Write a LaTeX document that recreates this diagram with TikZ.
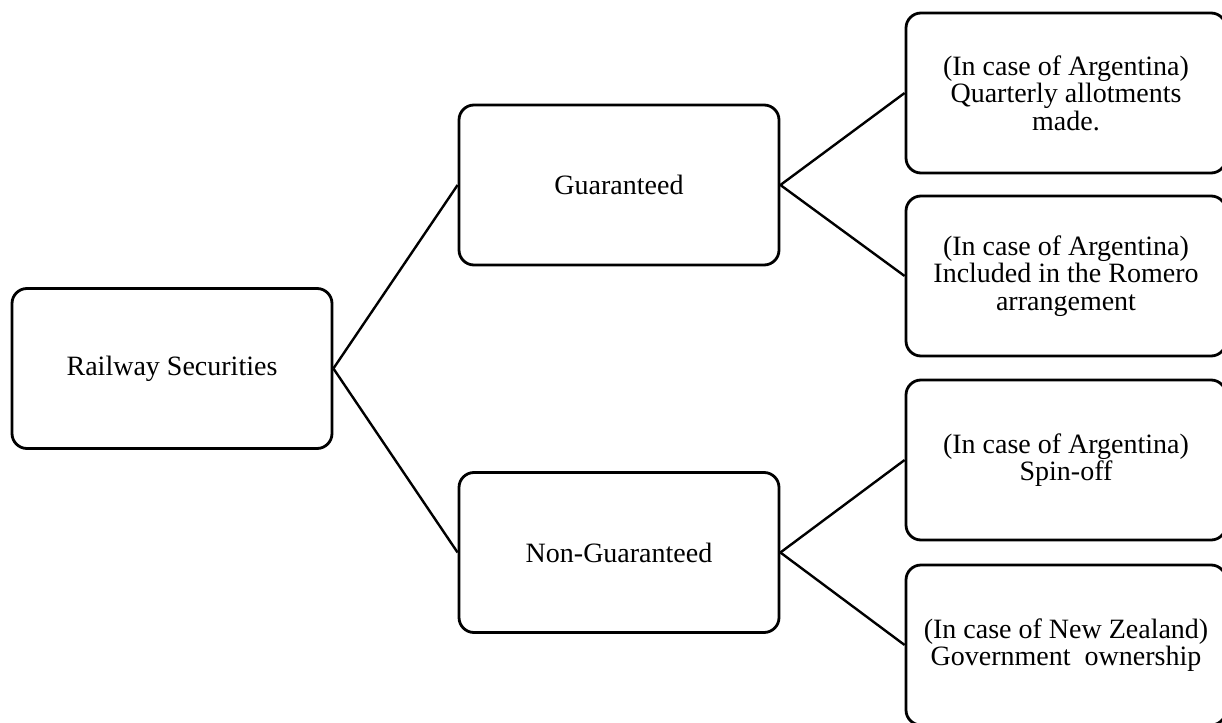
\documentclass[tikz,border=0pt]{standalone}
\usepackage{fontspec}
\setmainfont{Liberation Serif}
\begin{document}
\begin{tikzpicture}[x=1pt,y=-1pt,
  box/.style={draw, line width=2.8pt, rounded corners=15pt, minimum width=320pt,
    minimum height=160pt, inner sep=0pt, align=center,
    font=\fontsize{28}{27.5}\selectfont},
  link/.style={line width=2.4pt}]
  \useasboundingbox (0,0) rectangle (1222,722);
  % root and two branches
  \node[box] (rs) at (172,368.5) {Railway Securities};
  \node[box] (g)  at (619,185)   {Guaranteed};
  \node[box] (ng) at (619,552.5) {Non-Guaranteed};
  % leaves
  \node[box] (g1)  at (1066,93)  {(In case of Argentina)\\Quarterly allotments\\made.};
  \node[box] (g2)  at (1066,276) {(In case of Argentina)\\Included in the Romero\\arrangement};
  \node[box] (ng1) at (1066,460) {(In case of Argentina)\\Spin-off};
  \node[box] (ng2) at (1066,645) {(In case of New Zealand)\\Government\ \ ownership};
  % connectors
  \draw[link] (rs.east) -- (g.west);
  \draw[link] (rs.east) -- (ng.west);
  \draw[link] (g.east) -- (g1.west);
  \draw[link] (g.east) -- (g2.west);
  \draw[link] (ng.east) -- (ng1.west);
  \draw[link] (ng.east) -- (ng2.west);
\end{tikzpicture}
\end{document}
